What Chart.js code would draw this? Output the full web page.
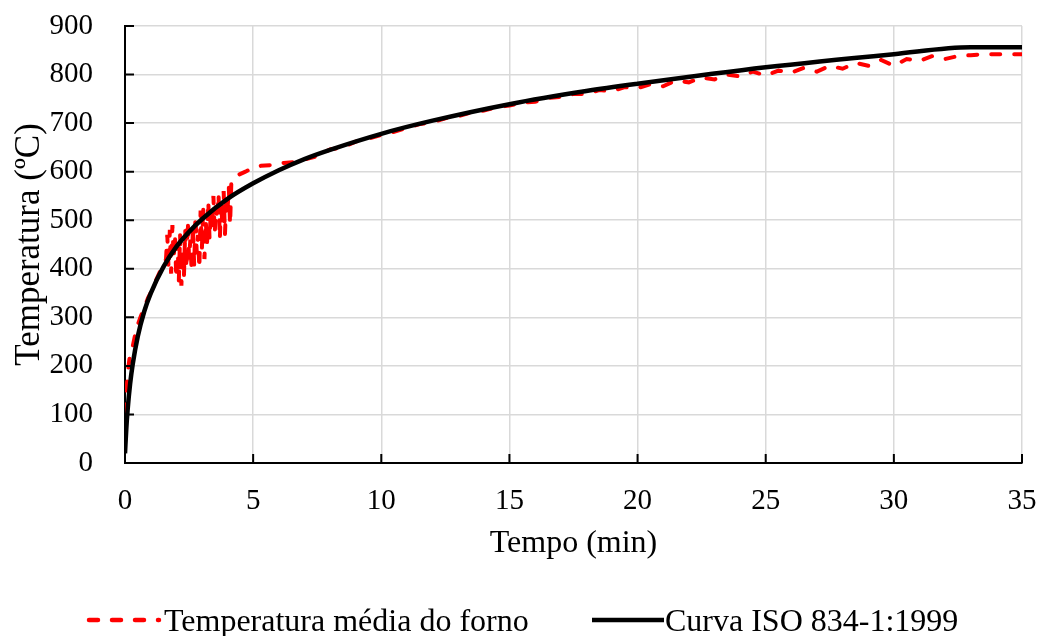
<!DOCTYPE html>
<html>
<head>
<meta charset="utf-8">
<script src="https://cdn.jsdelivr.net/npm/chart.js@4/dist/chart.umd.min.js"></script>
<style>
  html, body { margin: 0; padding: 0; background: #fff; }
  #wrap { position: relative; width: 1041px; height: 636px; }
  .leg { position: absolute; top: 600px; height: 40px; font: 32px 'Liberation Serif', 'Times New Roman', serif; color: #000; line-height: 40px; white-space: nowrap; }
  .leg svg { position: absolute; top: 17px; }
</style>
</head>
<body>
<div id="wrap">
  <canvas id="chart" width="1041" height="636"></canvas>
  <div class="leg" style="left:86px;"><svg width="76" height="6"><line x1="3" y1="3" x2="73" y2="3" stroke="#ff0000" stroke-width="4.5" stroke-dasharray="9 14" stroke-linecap="round"/></svg><span style="margin-left:78px">Temperatura média do forno</span></div>
  <div class="leg" style="left:592px;"><svg width="72" height="6"><line x1="0" y1="3" x2="72" y2="3" stroke="#000" stroke-width="4.5"/></svg><span style="margin-left:73px">Curva ISO 834-1:1999</span></div>
</div>
<script>
// ── Data ──
const fornoTime = [0, 0.05, 0.1, 0.15, 0.2, 0.3, 0.4, 0.5, 0.6, 0.75, 0.9, 1.0, 1.2, 1.4, 1.5,
  1.6, 1.65, 1.7, 1.75, 1.8, 1.85, 1.9, 1.95, 2.0, 2.05, 2.1, 2.15, 2.2, 2.25, 2.3, 2.35, 2.4, 2.45,
  2.5, 2.55, 2.6, 2.65, 2.7, 2.75, 2.8, 2.85, 2.9, 2.95, 3.0, 3.05, 3.1, 3.15, 3.2, 3.25, 3.3, 3.35,
  3.4, 3.45, 3.5, 3.55, 3.6, 3.65, 3.7, 3.75, 3.8, 3.85, 3.9, 3.95, 4.0, 4.05, 4.1, 4.15, 4.2,
  4.4, 4.7, 5.0, 5.3, 5.8, 6.2, 6.7, 7.0, 7.5, 8, 8.5, 9, 9.5, 10, 10.5, 11, 11.5, 12, 12.5, 13,
  13.5, 14, 14.5, 15, 15.5, 16, 16.5, 17, 17.5, 18, 18.5, 19, 19.5, 20, 20.5, 21, 21.5, 22, 22.5,
  23, 23.5, 24, 24.5, 25, 25.5, 26, 26.5, 27, 27.5, 28, 28.5, 29, 29.5, 30, 30.5, 31, 31.5, 32,
  32.5, 33, 33.5, 35];
const fornoTemp = [102, 140, 180, 205, 225, 240, 265, 285, 300, 320, 340, 350, 375, 398, 405,
  420, 470, 400, 480, 390, 490, 420, 470, 380, 455, 375, 470, 365, 440, 385, 480, 400, 500,
  420, 460, 395, 490, 405, 510, 430, 470, 400, 520, 440, 530, 420, 500, 450, 540, 460, 520,
  480, 550, 470, 530, 500, 555, 460, 540, 490, 560, 470, 540, 520, 570, 490, 580, 585,
  593, 600, 608, 612, 614, 618, 620, 625, 632, 646, 650, 662, 668, 676, 682, 690, 698, 702, 710, 714,
  722, 726, 733, 736, 742, 744, 752, 754, 760, 760, 768, 766, 774, 772, 780, 776, 788, 784, 794,
  790, 800, 796, 806, 798, 808, 804, 814, 806, 818, 812, 824, 818, 830, 818, 832, 828, 838, 832,
  838, 840, 842, 842];

const isoTime = [0, 0.05, 0.1, 0.2, 0.3, 0.5, 0.75, 1, 1.5, 2, 2.5, 3, 4, 5, 6, 7, 8, 10, 12, 15, 18, 20, 25, 30, 33, 35];
const isoTemp = [20, 70, 108, 163, 203, 261, 312, 349, 404, 445, 476, 502, 544, 576, 603, 626, 645, 678, 705, 739, 766, 781, 815, 842, 856, 856];

const xTicks = [0, 5, 10, 15, 20, 25, 30, 35];
const yTicks = [0, 100, 200, 300, 400, 500, 600, 700, 800, 900];

const FONT = "'Liberation Serif', 'Times New Roman', serif";

// ── Inside tick marks ──
const innerTicks = {
  id: 'innerTicks',
  afterDatasetsDraw(chart){
    const {ctx, chartArea, scales} = chart;
    ctx.save();
    ctx.strokeStyle = '#000';
    ctx.lineWidth = 2;
    ctx.beginPath();
    xTicks.forEach(v => {
      const px = scales.x.getPixelForValue(v);
      ctx.moveTo(px, chartArea.bottom);
      ctx.lineTo(px, chartArea.bottom - 9);
    });
    yTicks.forEach(v => {
      const py = scales.y.getPixelForValue(v);
      ctx.moveTo(chartArea.left, py);
      ctx.lineTo(chartArea.left + 9, py);
    });
    ctx.stroke();
    ctx.restore();
  }
};

Chart.defaults.font.family = FONT;
Chart.defaults.color = '#000';

new Chart(document.getElementById('chart'), {
  type: 'line',
  data: {
    datasets: [{
      label: 'Temperatura média do forno',
      data: fornoTime.map((t, i) => ({x: t, y: fornoTemp[i]})),
      borderColor: '#ff0000',
      borderWidth: 4,
      borderDash: [9, 14],
      borderCapStyle: 'round',
      pointRadius: 0,
      tension: 0,
      order: 2
    }, {
      label: 'Curva ISO 834-1:1999',
      data: isoTime.map((t, i) => ({x: t, y: isoTemp[i]})),
      borderColor: '#000',
      borderWidth: 4.5,
      pointRadius: 0,
      cubicInterpolationMode: 'monotone',
      order: 1
    }]
  },
  options: {
    responsive: false,
    animation: false,
    layout: { padding: { left: 9, right: 19, top: 26, bottom: 73 } },
    plugins: {
      tooltip: { enabled: false },
      legend: { display: false }
    },
    scales: {
      x: {
        type: 'linear',
        min: 0, max: 35,
        afterBuildTicks: s => { s.ticks = xTicks.map(v => ({value: v})); },
        afterFit: s => { s.height = 100; },
        grid: { color: '#d9d9d9', lineWidth: 1.5, drawTicks: true, tickLength: 21, tickColor: 'rgba(0,0,0,0)' },
        border: { color: '#000', width: 2 },
        ticks: { padding: 0, maxRotation: 0, font: { size: 29 }, color: '#000' },
        title: { display: true, text: 'Tempo (min)', font: { size: 32 }, color: '#000', padding: 0 }
      },
      y: {
        min: 0, max: 900,
        afterBuildTicks: s => { s.ticks = yTicks.map(v => ({value: v})); },
        afterFit: s => { s.width = 116; },
        grid: { color: '#d9d9d9', lineWidth: 1.5, drawTicks: true, tickLength: 32, tickColor: 'rgba(0,0,0,0)' },
        border: { color: '#000', width: 2 },
        ticks: { padding: 0, font: { size: 29 }, color: '#000' },
        title: { display: true, text: 'Temperatura (ºC)', font: { size: 35 }, color: '#000', padding: 0 }
      }
    }
  },
  plugins: [innerTicks]
});
</script>
</body>
</html>
